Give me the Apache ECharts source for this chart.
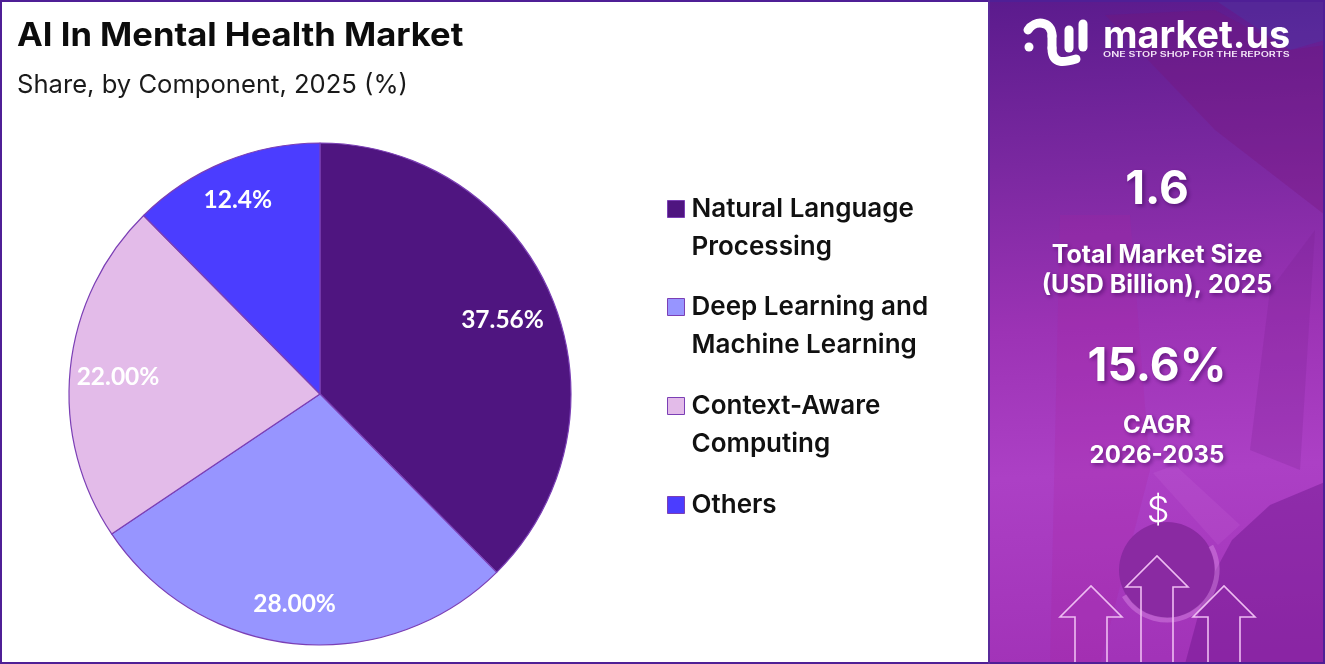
<!DOCTYPE html>
<html>
<head>
<meta charset="utf-8">
<title>AI In Mental Health Market</title>
<script src="https://cdn.jsdelivr.net/npm/echarts@6/dist/echarts.min.js"></script>
<style>
  html, body { margin: 0; padding: 0; background: #fff; }
  #chart { width: 1325px; height: 664px; }
</style>
</head>
<body>
<div id="chart"></div>
<script>
  const categories = ["Natural Language\nProcessing", "Deep Learning and\nMachine Learning", "Context-Aware\nComputing", "Others"];
  const shares = [37.56, 28.0, 22.0, 12.4];
  const shareLabels = ["37.56%", "28.00%", "22.00%", "12.4%"];
  const sliceColors = ["#4f1580", "#9795ff", "#e3bbe9", "#4b3dff"];

  const titleText = "AI In Mental Health Market";
  const subtitleText = "Share, by Component, 2025 (%)";
  const marketSize = "1.6";
  const marketSizeLabel = "Total Market Size\n(USD Billion), 2025";
  const cagr = "15.6%";
  const cagrLabel = "CAGR\n2026-2035";

  const headingFont = "Inter";
  const panelX = 990;
  const panelCenter = 1157;
  // legend squares sit on the first text line, see the blank line added in the formatter
  const legendIconY = [209, 307, 406, 505];
  const labelNudge = [[-8, 4], [-5, 5], [3, 4], [-4, -3]];

  const panelText = (text, y, fontSize, fontWeight, lineHeight) => ({
    type: "text",
    z: 10,
    style: {
      x: panelCenter, y, text, fontSize, fontWeight, lineHeight,
      fontFamily: headingFont, fill: "#fff", align: "center", verticalAlign: "middle",
      textShadowColor: "rgba(50,0,80,.55)", textShadowBlur: 4, textShadowOffsetX: 2, textShadowOffsetY: 2,
    },
  });

  const backdrop = (points, fill) => ({ type: "polygon", z: 2, shape: { points }, style: { fill } });

  const arrow = (cx, top, bottom) => ({
    type: "polyline",
    z: 6,
    shape: {
      points: [
        [cx - 16, bottom], [cx - 16, top + 31], [cx - 31, top + 31], [cx, top],
        [cx + 31, top + 31], [cx + 16, top + 31], [cx + 16, bottom], [cx - 16, bottom],
      ],
    },
    style: { fill: "none", stroke: "#eebcf2", lineWidth: 1.6 },
  });

  const logoStroke = { fill: "none", stroke: "#fff", lineWidth: 9, lineCap: "round" };
  const logoBar = (x, y1, y2) => ({ type: "line", z: 10, shape: { x1: x, y1, x2: x, y2 }, style: logoStroke });

  const legends = categories.map((name, i) => ({
    orient: "vertical",
    left: 667,
    top: legendIconY[i] - (name.includes("\n") ? 57 : 19),
    padding: 0,
    itemWidth: 21,
    itemHeight: 17,
    icon: "path://M0 0H10V10H0Z",
    itemStyle: { borderColor: "#7b3fb5", borderWidth: 1 },
    selectedMode: false,
    textStyle: { fontFamily: headingFont, fontSize: 26, fontWeight: 600, color: "#111", lineHeight: 38 },
    formatter: (text) => (text.includes("\n") ? `\n${text}` : text),
    data: [name],
  }));

  const chart = echarts.init(document.getElementById("chart"), null, { renderer: "canvas" });
  chart.setOption({
    animation: false,
    backgroundColor: "#fff",
    color: sliceColors,
    legend: legends,
    series: [
      {
        type: "pie",
        center: [320, 394],
        radius: [0, 251],
        startAngle: 90,
        clockwise: true,
        silent: true,
        label: { show: false },
        labelLine: { show: false },
        itemStyle: { borderColor: "#7b3fb5", borderWidth: 1.2 },
        data: categories.map((name, i) => ({ name, value: shares[i] })),
      },
      {
        // transparent ring, only here to sit the percent labels further out than mid radius
        type: "pie",
        center: [320, 394],
        radius: [155, 251],
        startAngle: 90,
        clockwise: true,
        silent: true,
        itemStyle: { color: "transparent" },
        labelLine: { show: false },
        label: {
          show: true,
          position: "inside",
          fontFamily: "Lato",
          fontSize: 24.5,
          fontWeight: 700,
          color: "#fff",
          formatter: (p) => shareLabels[p.dataIndex],
        },
        labelLayout: (p) => ({ dx: labelNudge[p.dataIndex][0], dy: labelNudge[p.dataIndex][1] }),
        data: categories.map((name, i) => ({ name, value: shares[i] })),
      },
    ],
    graphic: [
      { type: "rect", z: 1, shape: { x: panelX, y: 0, width: 335, height: 664 },
        style: { fill: new echarts.graphic.LinearGradient(0, 0, 0.1, 1, [
          { offset: 0, color: "#5b1b8d" },
          { offset: 0.25, color: "#7a28a0" },
          { offset: 0.5, color: "#9c33b5" },
          { offset: 0.72, color: "#ac40c5" },
          { offset: 1, color: "#a233b8" },
        ]) } },
      backdrop([[1215, 0], [1325, 0], [1325, 40], [1290, 50]], "rgba(70,60,170,.35)"),
      backdrop([[1105, 15], [1215, 130], [1325, 215], [1325, 45], [1290, 50], [1215, 10]], "rgba(120,20,120,.3)"),
      backdrop([[1060, 215], [1130, 215], [1150, 470], [1100, 664], [1050, 664], [1055, 440]], "rgba(170,35,160,.22)"),
      backdrop([[1270, 290], [1315, 230], [1300, 470], [1250, 450]], "rgba(120,30,140,.22)"),
      backdrop([[1185, 664], [1205, 590], [1232, 540], [1270, 505], [1325, 482], [1325, 664]], "rgba(105,20,135,.42)"),
      backdrop([[1153, 473], [1175, 465], [1240, 525], [1218, 545]], "rgba(210,120,225,.14)"),
      { type: "circle", z: 3, shape: { cx: 1167, cy: 570, r: 48 }, style: { fill: "#8a2aa2" } },
      { type: "arc", z: 3, shape: { cx: 1167, cy: 570, r: 50, startAngle: -0.5, endAngle: 2.6, clockwise: true },
        style: { fill: "none", stroke: "rgba(225,150,235,.4)", lineWidth: 5 } },

      // frame round the whole picture and the divider before the side panel
      { type: "rect", z: 20, shape: { x: 1, y: 1, width: 1323, height: 662 }, style: { fill: "none", stroke: "#4f1f96", lineWidth: 2 } },
      { type: "line", z: 20, shape: { x1: panelX - 1, y1: 0, x2: panelX - 1, y2: 664 }, style: { stroke: "#5a2a9a", lineWidth: 2 } },

      { type: "text", z: 10, x: 17, y: 36, scaleX: 1.08,
        style: { text: titleText, fontFamily: headingFont, fontSize: 32, fontWeight: 700, fill: "#0c0c0c", verticalAlign: "middle" } },
      { type: "text", z: 10, x: 17, y: 85,
        style: { text: subtitleText, fontFamily: headingFont, fontSize: 25.6, fontWeight: 400, fill: "#1a1a1a", verticalAlign: "middle" } },

      // market.us logo
      { type: "bezierCurve", z: 10, shape: { x1: 1028, y1: 30, cpx1: 1034, cpy1: 20, cpx2: 1052, cpy2: 20, x2: 1052, y2: 36 }, style: logoStroke },
      logoBar(1052, 36, 48),
      { type: "bezierCurve", z: 10, shape: { x1: 1052, y1: 48, cpx1: 1052, cpy1: 66, cpx2: 1066, cpy2: 62, x2: 1076, y2: 59 }, style: logoStroke },
      logoBar(1069, 30, 48),
      logoBar(1083, 24, 47),
      { type: "circle", z: 10, shape: { cx: 1029, cy: 47, r: 4.5 }, style: { fill: "#fff" } },
      { type: "text", z: 10, style: { x: 1103, y: 37, text: "market.us", fontFamily: "Inter", fontSize: 37.8, fontWeight: 700, fill: "#fff", verticalAlign: "middle" } },
      { type: "text", z: 10, x: 1103, y: 55, scaleX: 1.52,
        style: { text: "ONE STOP SHOP FOR THE REPORTS", fontFamily: "Inter", fontSize: 7, fontWeight: 600, fill: "#f3e4f7", verticalAlign: "middle" } },

      panelText(marketSize, 190, 46, 700),
      panelText(marketSizeLabel, 270, 25, 700, 30),
      panelText(cagr, 367, 46, 700),
      panelText(cagrLabel, 441, 24, 700, 30),
      { type: "text", z: 10, style: { x: 1158, y: 511, text: "$", fontFamily: "Inter", fontSize: 36, fontWeight: 300, fill: "#fff", align: "center", verticalAlign: "middle" } },

      arrow(1091, 586, 664),
      arrow(1157, 556, 664),
      arrow(1224, 586, 664),
    ],
  });
</script>
</body>
</html>
